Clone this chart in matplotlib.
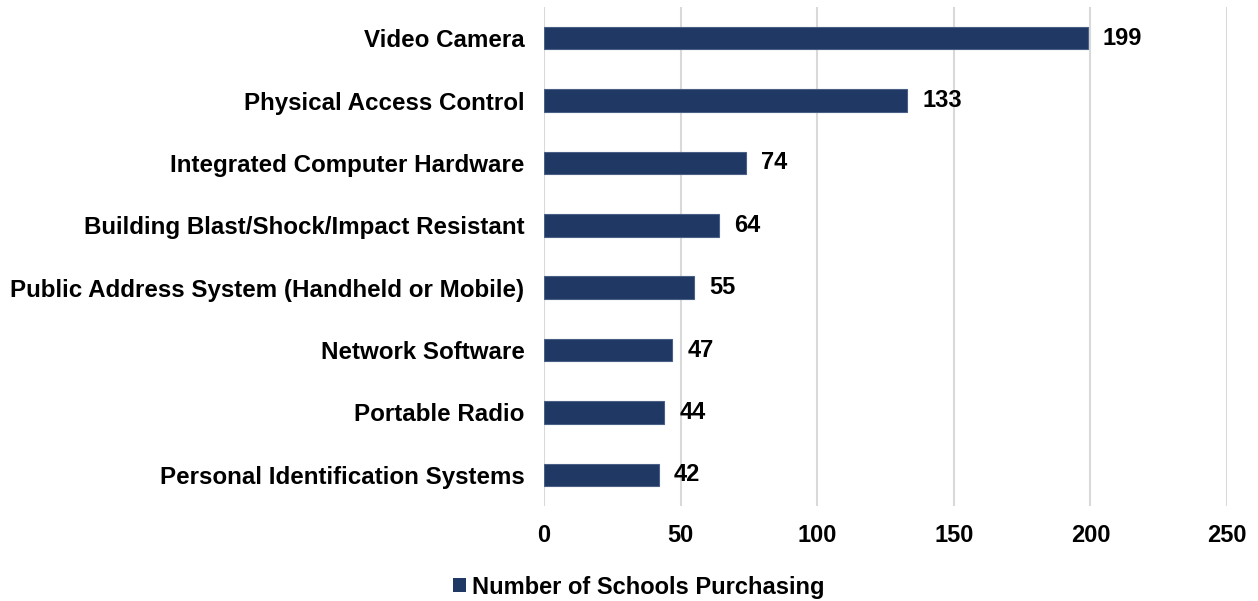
import matplotlib.pyplot as plt
from matplotlib.patches import Patch

plt.rcParams['font.family'] = ['Liberation Sans', 'DejaVu Sans']

categories = [
    'Video Camera',
    'Physical Access Control',
    'Integrated Computer Hardware',
    'Building Blast/Shock/Impact Resistant',
    'Public Address System (Handheld or Mobile)',
    'Network Software',
    'Portable Radio',
    'Personal Identification Systems',
]
values = [199, 133, 74, 64, 55, 47, 44, 42]
xticks = [0, 50, 100, 150, 200, 250]
series_name = 'Number of Schools Purchasing'
bar_color = '#1F3864'
FS = 17


def main():
    fig = plt.figure(figsize=(12.58, 6.01), dpi=100)
    ax = fig.add_axes([0.4324, 0.158, 0.543, 0.8304])

    ypos = list(range(len(categories)))
    ax.barh(ypos, values, height=0.36, color=bar_color,
            edgecolor='#4A5F86', linewidth=0.8, zorder=3)
    for y, v in zip(ypos, values):
        ax.annotate(str(v), (v, y), xytext=(11, 0), textcoords='offset points',
                    va='center', ha='left', fontsize=FS, fontweight='bold',
                    color='black')

    ax.set_yticks(ypos)
    ax.set_yticklabels(categories, fontsize=17.35, fontweight='bold')
    ax.set_ylim(len(categories) - 0.5, -0.5)
    ax.set_xlim(0, 250)
    ax.set_xticks(xticks)
    ax.set_xticklabels([str(t) for t in xticks], fontsize=FS, fontweight='bold')
    ax.tick_params(axis='both', length=0)
    ax.tick_params(axis='x', pad=13)
    ax.tick_params(axis='y', pad=14)
    ax.grid(axis='x', color='#D9D9D9', linewidth=1.5, zorder=0)
    for s in ax.spines.values():
        s.set_visible(False)

    handle = Patch(facecolor=bar_color, edgecolor='none')
    fig.legend([handle], [series_name], loc='center', bbox_to_anchor=(0.508, 0.023),
               frameon=False, prop={'size': FS, 'weight': 'bold'},
               handlelength=0.55, handleheight=0.55, handletextpad=0.25)

    fig.savefig('out.png', dpi=100)


if __name__ == '__main__':
    main()
